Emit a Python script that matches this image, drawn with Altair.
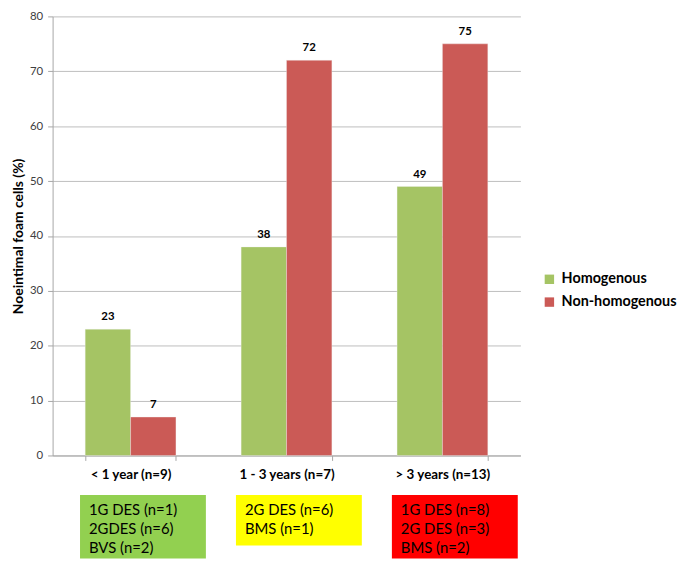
import altair as alt
import pandas as pd

categories = ["< 1 year (n=9)", "1 - 3 years (n=7)", "> 3 years (n=13)"]
series = ["Homogenous", "Non-homogenous"]
homogenous = [23, 38, 49]
non_homogenous = [7, 72, 75]
series_colors = ["#A5C464", "#CB5A56"]

box_colors = ["#92D050", "#FFFF00", "#FF0000"]
box_lines = [
    ["1G DES (n=1)", "2GDES (n=6)", "BVS (n=2)"],
    ["2G DES (n=6)", "BMS (n=1)"],
    ["1G DES (n=8)", "2G DES (n=3)", "BMS (n=2)"],
]

FONT = "Lato"

rows = []
for i, c in enumerate(categories):
    rows.append({"cat": c, "series": series[0], "value": homogenous[i]})
    rows.append({"cat": c, "series": series[1], "value": non_homogenous[i]})
bars_df = pd.DataFrame(rows)

box_df = pd.DataFrame({
    "cat": categories,
    "fill": box_colors,
    "nlines": [len(l) for l in box_lines],
})
text_rows = []
for c, lines in zip(categories, box_lines):
    for j, t in enumerate(lines):
        text_rows.append({"cat": c, "line": j + 1, "txt": t})
text_df = pd.DataFrame(text_rows)

W = 472
H = 443

x_enc = alt.X(
    "cat:N", sort=categories,
    scale=alt.Scale(paddingInner=0.418, paddingOuter=0.209),
    axis=alt.Axis(
        title=None, labelAngle=0, tickBand="extent", grid=False,
        domainColor="#A6A6A6", tickColor="#A6A6A6", tickSize=5,
        labelFont=FONT, labelFontSize=13.5, labelFontWeight="bold",
        labelColor="#000000", labelPadding=7,
    ),
)
xoff = alt.XOffset("series:N", sort=series, scale=alt.Scale(paddingInner=0, paddingOuter=0))
y_enc = alt.Y(
    "value:Q",
    scale=alt.Scale(domain=[0, 80], nice=False),
    axis=alt.Axis(
        values=list(range(0, 81, 10)), title="Noeintimal foam cells (%)",
        titleFont=FONT, titleFontSize=14, titleFontWeight="bold", titleColor="#000000",
        titlePadding=4, labelFont=FONT, labelFontSize=11.5, labelColor="#404040",
        labelPadding=5, tickSize=5, tickColor="#A6A6A6", domainColor="#A6A6A6",
        gridColor="#BDBDBD", gridWidth=1,
    ),
)
color_enc = alt.Color(
    "series:N", sort=series,
    scale=alt.Scale(domain=series, range=series_colors),
    legend=alt.Legend(
        title=None, orient="none", legendX=494, legendY=258,
        symbolType="square", symbolSize=90, symbolStrokeWidth=0,
        labelFont=FONT, labelFontSize=14.5, labelFontWeight="bold", labelColor="#000000",
        rowPadding=8, labelOffset=5,
    ),
)

bars = alt.Chart(bars_df).mark_bar(stroke="#F2F2F2", strokeWidth=0.6, strokeOpacity=0.6).encode(
    x=x_enc, xOffset=xoff, y=y_enc, color=color_enc
)
labels = alt.Chart(bars_df).mark_text(
    baseline="bottom", dy=-7, font=FONT, fontSize=11.5, fontWeight="bold", color="#000000"
).encode(x=alt.X("cat:N", sort=categories), xOffset=alt.XOffset("series:N", sort=series), y="value:Q", text="value:Q")

top = alt.layer(bars, labels).properties(width=W, height=H)

LINE_H = 19
BH = 64
y_box = alt.Scale(domain=[0, BH / LINE_H], reverse=True, nice=False, zero=False)
x_box = alt.X("cat:N", sort=categories, scale=alt.Scale(paddingInner=0, paddingOuter=0), axis=None)

boxes = alt.Chart(box_df).transform_calculate(
    y0="0", y1="datum.nlines + 0.68"
).mark_bar(width=127, xOffset=12.5, clip=True).encode(
    x=x_box,
    y=alt.Y("y0:Q", scale=y_box, axis=None),
    y2="y1:Q",
    color=alt.Color("fill:N", scale=None),
)
box_text = alt.Chart(text_df).transform_calculate(
    ly="datum.line - 0.21"
).mark_text(align="left", baseline="middle", dx=-42, font=FONT, fontSize=15, color="#000000").encode(
    x=x_box,
    y=alt.Y("ly:Q", scale=y_box, axis=None),
    text="txt:N",
)
bottom = alt.layer(boxes, box_text).properties(width=W, height=BH)

chart = alt.vconcat(top, bottom, spacing=40, bounds="flush").resolve_scale(
    x="independent", y="independent", color="independent"
).configure_view(stroke=None).properties(padding={"left": 3, "top": 0, "right": 0, "bottom": 0})

chart.save("out.html", embed_options={"renderer": "svg", "actions": False})
